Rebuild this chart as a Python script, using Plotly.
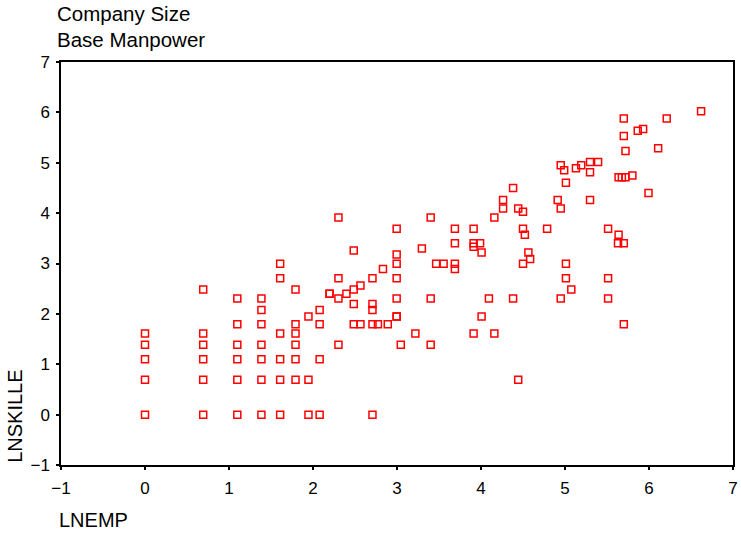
import plotly.graph_objects as go

# LNEMP (log of employees) and LNSKILLE (log of skilled staff) per company
lnemp = [
    0, 0, 0, 0, 0,
    0.693, 0.693, 0.693, 0.693, 0.693, 0.693,
    1.099, 1.099, 1.099, 1.099, 1.099, 1.099,
    1.386, 1.386, 1.386, 1.386, 1.386, 1.386, 1.386,
    1.609, 1.609, 1.609, 1.609, 1.609, 1.609,
    1.792, 1.792, 1.792, 1.792, 1.792, 1.792,
    1.946, 1.946, 1.946,
    2.079, 2.079, 2.079, 2.079,
    2.197, 2.197,
    2.303, 2.303, 2.303, 2.303,
    2.398,
    2.485, 2.485, 2.485, 2.485,
    2.565, 2.565,
    2.708, 2.708, 2.708, 2.708, 2.708,
    2.773, 2.833, 2.890,
    2.996, 2.996, 2.996, 2.996, 2.996, 2.996, 2.996,
    3.045, 3.219, 3.296,
    3.401, 3.401, 3.401, 3.466, 3.555,
    3.689, 3.689, 3.689, 3.689,
    3.912, 3.912, 3.912, 3.912,
    3.989, 4.007, 4.007, 4.094, 4.159, 4.159,
    4.263, 4.263, 4.382, 4.382, 4.443, 4.443,
    4.500, 4.500, 4.500, 4.522, 4.564, 4.585,
    4.787,
    4.913, 4.949, 4.949, 4.949, 4.990, 5.011, 5.011, 5.011, 5.075,
    5.130, 5.193, 5.298, 5.298, 5.298, 5.394,
    5.513, 5.513, 5.513, 5.631, 5.638, 5.638, 5.677,
    5.700, 5.700, 5.700, 5.700, 5.720, 5.720, 5.802,
    5.866, 5.930, 5.994, 6.109, 6.211, 6.620,
]
lnskille = [
    1.609, 1.386, 1.099, 0.693, 0,
    2.485, 1.609, 1.386, 1.099, 0.693, 0,
    2.303, 1.792, 1.386, 1.099, 0.693, 0,
    2.303, 2.079, 1.792, 1.386, 1.099, 0.693, 0,
    2.996, 2.708, 1.609, 1.099, 0.693, 0,
    2.485, 1.792, 1.609, 1.386, 1.099, 0.693,
    1.946, 0.693, 0,
    2.079, 1.792, 1.099, 0,
    2.398, 2.398,
    3.912, 2.708, 2.303, 1.386,
    2.398,
    3.258, 2.485, 2.197, 1.792,
    2.565, 1.792,
    2.708, 2.197, 2.079, 0, 1.792,
    1.792, 2.890, 1.792,
    3.689, 3.178, 2.996, 2.708, 2.303, 1.946, 1.946,
    1.386, 1.609, 3.296,
    3.912, 2.303, 1.386, 2.996, 2.996,
    3.401, 2.996, 2.890, 3.689,
    3.689, 3.332, 1.609, 3.401,
    3.401, 3.219, 1.946, 2.303, 3.912, 1.609,
    4.263, 4.094, 4.500, 2.303, 4.094, 0.693,
    4.025, 3.689, 2.996, 3.570, 3.219, 3.091,
    3.689,
    4.263, 4.949, 4.094, 2.303, 4.852, 4.605, 2.996, 2.708, 2.485,
    4.890, 4.949, 5.017, 4.812, 4.263, 5.017,
    3.689, 2.708, 2.303, 3.401, 3.570, 4.710, 4.710,
    5.880, 5.530, 3.401, 1.792, 5.231, 4.710, 4.745,
    5.635, 5.670, 4.400, 5.288, 5.880, 6.020,
]

font_family = "Liberation Sans, Arial, sans-serif"

fig = go.Figure(
    go.Scatter(
        x=lnemp,
        y=lnskille,
        mode="markers",
        marker=dict(
            symbol="square-open",
            size=7,
            color="#ff0000",
            line=dict(color="#ff0000", width=1.5),
        ),
        hoverinfo="x+y",
    )
)

axis_common = dict(
    showgrid=False,
    zeroline=False,
    showline=True,
    linecolor="#000000",
    linewidth=1.5,
    ticks="outside",
    ticklen=3,
    tickwidth=2,
    tickcolor="#000000",
    tickfont=dict(family=font_family, size=17, color="#000000"),
    dtick=1,
    mirror=True,
)

fig.update_xaxes(range=[-1, 7], tick0=-1, ticklabelstandoff=4, **axis_common)
fig.update_yaxes(range=[-1, 7], tick0=-1, ticklabelstandoff=3, **axis_common)

title_font = dict(family=font_family, size=20.5, color="#000000")
label_font = dict(family=font_family, size=20, color="#000000")

fig.update_layout(
    width=741,
    height=534,
    margin=dict(l=61, r=3, t=62, b=69),
    paper_bgcolor="#ffffff",
    plot_bgcolor="#ffffff",
    showlegend=False,
    annotations=[
        dict(text="Company Size", xref="paper", yref="paper",
             x=-0.0095, y=1.121, xanchor="left", yanchor="middle",
             showarrow=False, font=title_font),
        dict(text="Base Manpower", xref="paper", yref="paper",
             x=-0.0095, y=1.056, xanchor="left", yanchor="middle",
             showarrow=False, font=title_font),
        dict(text="LNEMP", xref="paper", yref="paper",
             x=-0.006, y=-0.137, xanchor="left", yanchor="middle",
             showarrow=False, font=label_font),
        dict(text="LNSKILLE", xref="paper", yref="paper",
             x=-0.0687, y=0.1216, xanchor="center", yanchor="middle",
             textangle=-90, showarrow=False, font=label_font),
    ],
)

fig.write_html("out.html")
